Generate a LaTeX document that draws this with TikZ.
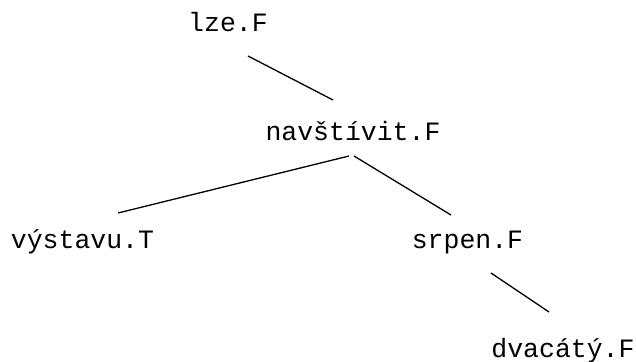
\documentclass[tikz,border=0pt]{standalone}
\usepackage{fontspec}
\setmonofont{Liberation Mono}
\usepackage{tikz}

\begin{document}
\begin{tikzpicture}[x=1pt,y=-1pt]
\tikzstyle{word}=[inner sep=0pt,anchor=base,font=\fontsize{26.5}{30}\selectfont\ttfamily]
\tikzstyle{branch}=[black,line width=1.3pt]
\useasboundingbox (0,0) rectangle (636,361);
% words of the tree
\node[word] (lze) at (228,32) {lze.F};
\node[word] (nav) at (353,140) {navštívit.F};
\node[word] (vys) at (82.5,248) {výstavu.T};
\node[word] (srp) at (467.5,248) {srpen.F};
\node[word] (dva) at (563,357) {dvacátý.F};
% branches
\draw[branch] ([shift={(20,24)}]lze.base) -- ([shift={(-20,-40)}]nav.base);
\draw[branch] ([shift={(-4,16)}]nav.base) -- ([shift={(35.5,-35)}]vys.base);
\draw[branch] ([shift={(1,16)}]nav.base) -- ([shift={(-16.5,-33)}]srp.base);
\draw[branch] ([shift={(23.5,25)}]srp.base) -- ([shift={(-14,-45)}]dva.base);
\end{tikzpicture}
\end{document}
